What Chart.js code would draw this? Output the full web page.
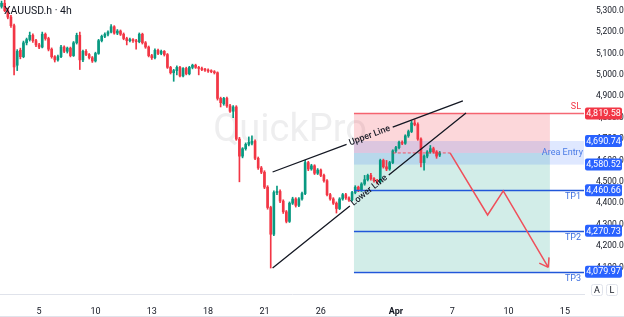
<!DOCTYPE html>
<html>
<head>
<meta charset="utf-8">
<script src="https://cdn.jsdelivr.net/npm/chart.js@4.4.1/dist/chart.umd.min.js"></script>
<style>
  html, body { margin: 0; padding: 0; background: #fff; }
  #wrap { width: 624px; height: 317px; position: relative; }
</style>
</head>
<body>
<div id="wrap"><canvas id="chart"></canvas></div>
<script>
// x axis: bar index of each date label
const tickIdx = [12, 30, 48, 66, 84, 102, 126, 144, 162, 180];
const tickLabels = ["5", "10", "13", "18", "21", "26", "Apr", "7", "10", "15"];
const yTicks = [4100, 4200, 4300, 4400, 4500, 4600, 4700, 4800, 4900, 5000, 5100, 5200, 5300];

// XAUUSD.h 4h candles
const opens = [
  5320, 5335, 5300, 5270, 5230, 5045, 5115, 5085, 5150, 5165,
  5185, 5160, 5140, 5130, 5190, 5170, 5120, 5085, 5070, 5085,
  5130, 5110, 5125, 5090, 5150, 5185, 5070, 5110, 5095, 5080,
  5065, 5100, 5160, 5180, 5190, 5200, 5225, 5195, 5205, 5190,
  5170, 5160, 5165, 5160, 5155, 5190, 5150, 5130, 5090, 5080,
  5115, 5100, 5110, 5095, 5035, 5010, 5020, 5035, 4995, 5030,
  5005, 5035, 5045, 5035, 5030, 5025, 5022, 5018, 5015, 5010,
  4890, 4865, 4890, 4855, 4830, 4850, 4700, 4620, 4655, 4675,
  4680, 4690, 4610, 4565, 4545, 4475, 4380, 4255, 4450, 4455,
  4410, 4360, 4315, 4400, 4420, 4390, 4420, 4445, 4590, 4560,
  4575, 4540, 4555, 4530, 4505, 4440, 4420, 4400, 4375, 4420,
  4440, 4425, 4415, 4450, 4475, 4460, 4490, 4510, 4530, 4515,
  4505, 4500, 4600, 4570, 4560, 4590, 4645, 4660, 4685, 4680,
  4715, 4735, 4775, 4768, 4700, 4590, 4620, 4640, 4655, 4640,
  4625
];
const highs = [
  5345, 5350, 5312, 5278, 5238, 5118, 5125, 5158, 5172, 5200,
  5192, 5166, 5148, 5200, 5196, 5176, 5126, 5090, 5092, 5138,
  5136, 5130, 5130, 5156, 5195, 5200, 5116, 5118, 5100, 5086,
  5106, 5166, 5186, 5196, 5206, 5235, 5230, 5212, 5210, 5196,
  5176, 5172, 5170, 5166, 5196, 5195, 5156, 5135, 5096, 5122,
  5120, 5116, 5114, 5100, 5040, 5026, 5042, 5040, 5034, 5036,
  5040, 5050, 5050, 5040, 5036, 5030, 5028, 5024, 5020, 5014,
  4896, 4895, 4896, 4862, 4856, 4856, 4708, 4660, 4682, 4710,
  4715, 4696, 4616, 4572, 4552, 4482, 4386, 4458, 4480, 4462,
  4416, 4366, 4406, 4428, 4426, 4426, 4452, 4600, 4596, 4582,
  4580, 4562, 4560, 4536, 4510, 4446, 4426, 4406, 4426, 4446,
  4446, 4430, 4456, 4482, 4480, 4496, 4530, 4536, 4540, 4520,
  4512, 4606, 4606, 4600, 4596, 4650, 4666, 4690, 4692, 4720,
  4742, 4785, 4790, 4776, 4706, 4626, 4646, 4670, 4662, 4646,
  4642
];
const lows = [
  5312, 5295, 5262, 5222, 5000, 5020, 5075, 5080, 5140, 5158,
  5152, 5132, 5122, 5126, 5162, 5112, 5078, 5060, 5064, 5080,
  5104, 5102, 5084, 5086, 5144, 5025, 5062, 5090, 5074, 5058,
  5060, 5096, 5154, 5174, 5182, 5196, 5190, 5188, 5184, 5164,
  5140, 5154, 5152, 5120, 5150, 5144, 5124, 5084, 5072, 5074,
  5094, 5094, 5088, 5030, 5004, 4970, 5000, 4990, 4990, 5000,
  5000, 5028, 5030, 5000, 5020, 5016, 5012, 5010, 5004, 4882,
  4850, 4858, 4848, 4824, 4800, 4694, 4500, 4612, 4648, 4668,
  4672, 4604, 4558, 4538, 4468, 4372, 4097, 4248, 4440, 4402,
  4352, 4308, 4310, 4394, 4382, 4384, 4414, 4440, 4552, 4554,
  4534, 4534, 4524, 4498, 4434, 4414, 4394, 4354, 4370, 4414,
  4418, 4408, 4410, 4444, 4454, 4455, 4484, 4504, 4508, 4498,
  4490, 4495, 4564, 4552, 4554, 4585, 4638, 4654, 4674, 4675,
  4708, 4730, 4762, 4694, 4570, 4555, 4612, 4634, 4634, 4610,
  4618
];
const closes = [
  5335, 5300, 5270, 5230, 5037, 5110, 5085, 5150, 5165, 5185,
  5160, 5140, 5130, 5190, 5170, 5120, 5085, 5070, 5085, 5130,
  5110, 5125, 5090, 5150, 5185, 5070, 5110, 5095, 5080, 5065,
  5100, 5160, 5180, 5190, 5200, 5225, 5195, 5205, 5190, 5170,
  5160, 5165, 5160, 5155, 5190, 5150, 5130, 5090, 5080, 5115,
  5100, 5110, 5095, 5035, 5010, 5020, 5035, 4995, 5030, 5005,
  5035, 5045, 5035, 5030, 5025, 5022, 5018, 5015, 5010, 4890,
  4870, 4890, 4855, 4830, 4850, 4700, 4620, 4655, 4675, 4685,
  4690, 4610, 4565, 4545, 4475, 4380, 4255, 4450, 4455, 4410,
  4360, 4315, 4400, 4420, 4390, 4420, 4445, 4590, 4560, 4575,
  4540, 4555, 4530, 4505, 4440, 4420, 4400, 4375, 4420, 4440,
  4425, 4415, 4450, 4475, 4460, 4490, 4510, 4530, 4515, 4505,
  4500, 4600, 4570, 4560, 4590, 4645, 4660, 4685, 4680, 4715,
  4735, 4775, 4768, 4700, 4590, 4620, 4640, 4655, 4640, 4620,
  4635
];

// trade setup drawn on top
const levelNames = ["SL", "TP1", "TP2", "TP3"];
const levelPrices = [4819.58, 4460.66, 4270.73, 4079.97];
const entryZone = [4690.74, 4580.52];
const entryPrice = 4635;
const zoneBars = [112.6, 175.2];
const entryLineBars = [125, 143.3];
const upperLine = [[86.6, 4546], [147.4, 4878]];
const lowerLine = [[86.6, 4097], [148.4, 4822]];
const pathBars = [143.3, 155.3, 160.3, 174.7];
const pathPrices = [4635, 4345, 4458, 4100];

const UP = "#089981";
const DOWN = "#f23645";
const BLUE = "#2962ff";

const candleColors = opens.map((o, i) => (closes[i] >= o ? UP : DOWN));

function fmt(v) {
  return v.toLocaleString("en-US", { minimumFractionDigits: 2, maximumFractionDigits: 2 });
}

const overlay = {
  id: "overlay",
  beforeDatasetsDraw(chart) {
    const { ctx, chartArea: a, scales: { x, y } } = chart;
    ctx.save();
    // watermark
    ctx.font = "38px Roboto";
    ctx.fillStyle = "rgba(120,123,134,0.13)";
    ctx.textAlign = "center";
    ctx.textBaseline = "middle";
    ctx.fillText("QuickPro", 290, 131);

    const x0 = x.getPixelForValue(zoneBars[0]);
    const x1 = x.getPixelForValue(zoneBars[1]);
    const ySL = y.getPixelForValue(levelPrices[0]);
    const yEn = y.getPixelForValue(entryPrice);
    const yTP = y.getPixelForValue(levelPrices[3]);
    ctx.fillStyle = "rgba(242,54,69,0.2)";
    ctx.fillRect(x0, ySL, x1 - x0, yEn - ySL);
    ctx.fillStyle = "rgba(8,153,129,0.18)";
    ctx.fillRect(x0, yEn, x1 - x0, yTP - yEn);
    const zt = y.getPixelForValue(entryZone[0]);
    const zb = y.getPixelForValue(entryZone[1]);
    ctx.fillStyle = "rgba(41,98,255,0.15)";
    ctx.fillRect(x0, zt, a.right - x0, zb - zt);
    ctx.restore();
  },
  afterDatasetsDraw(chart) {
    const { ctx, chartArea: a, scales: { x, y } } = chart;
    ctx.save();
    const x0 = x.getPixelForValue(zoneBars[0]);

    // SL / TP lines
    levelPrices.forEach((p, i) => {
      const py = Math.round(y.getPixelForValue(p)) + 0.5;
      ctx.strokeStyle = i === 0 ? "rgba(242,54,69,0.75)" : "#2157d9";
      ctx.lineWidth = 1.5;
      ctx.beginPath();
      ctx.moveTo(x0, py);
      ctx.lineTo(a.right, py);
      ctx.stroke();
    });

    // dashed entry line
    const ye = y.getPixelForValue(entryPrice);
    ctx.strokeStyle = "rgba(242,54,69,0.8)";
    ctx.lineWidth = 1;
    ctx.setLineDash([3, 2]);
    ctx.beginPath();
    ctx.moveTo(x.getPixelForValue(entryLineBars[0]), ye);
    ctx.lineTo(x.getPixelForValue(entryLineBars[1]), ye);
    ctx.stroke();
    ctx.setLineDash([]);

    // wedge lines with labels
    function slant(pts, label, t) {
      const ax = x.getPixelForValue(pts[0][0]), ay = y.getPixelForValue(pts[0][1]);
      const bx = x.getPixelForValue(pts[1][0]), by = y.getPixelForValue(pts[1][1]);
      const len = Math.hypot(bx - ax, by - ay);
      const ang = Math.atan2(by - ay, bx - ax);
      ctx.font = "500 9px Roboto";
      const w = ctx.measureText(label).width + 6;
      const t0 = t - w / 2 / len, t1 = t + w / 2 / len;
      ctx.strokeStyle = "#131722";
      ctx.lineWidth = 1.3;
      ctx.beginPath();
      ctx.moveTo(ax, ay);
      ctx.lineTo(ax + (bx - ax) * t0, ay + (by - ay) * t0);
      ctx.moveTo(ax + (bx - ax) * t1, ay + (by - ay) * t1);
      ctx.lineTo(bx, by);
      ctx.stroke();
      ctx.save();
      ctx.translate(ax + (bx - ax) * t, ay + (by - ay) * t);
      ctx.rotate(ang);
      ctx.fillStyle = "#131722";
      ctx.textAlign = "center";
      ctx.textBaseline = "middle";
      ctx.fillText(label, 0, 0);
      ctx.restore();
    }
    slant(upperLine, "Upper Line", 0.51);
    slant(lowerLine, "Lower Line", 0.5);

    // projected path with arrow head
    const px = pathBars.map(v => x.getPixelForValue(v));
    const py = pathPrices.map(v => y.getPixelForValue(v));
    ctx.strokeStyle = "#ef4f5a";
    ctx.lineWidth = 1.5;
    ctx.beginPath();
    px.forEach((v, i) => (i ? ctx.lineTo(v, py[i]) : ctx.moveTo(v, py[i])));
    const n = px.length - 1;
    const back = Math.atan2(py[n - 1] - py[n], px[n - 1] - px[n]);
    [-0.6, 0.6].forEach(d => {
      ctx.moveTo(px[n], py[n]);
      ctx.lineTo(px[n] + 10 * Math.cos(back + d), py[n] + 10 * Math.sin(back + d));
    });
    ctx.stroke();

    // level texts
    ctx.font = "9px Roboto";
    ctx.textAlign = "right";
    ctx.textBaseline = "middle";
    levelNames.forEach((name, i) => {
      const ly = y.getPixelForValue(levelPrices[i]);
      ctx.fillStyle = i === 0 ? DOWN : "#3d6fe0";
      ctx.fillText(name, a.right - 3, i === 0 ? ly - 7 : ly + 7);
    });
    ctx.fillStyle = "#4a7be6";
    ctx.fillText("Area Entry", a.right - 1, (y.getPixelForValue(entryZone[0]) + y.getPixelForValue(entryZone[1])) / 2);

    // price tags on the axis
    const tags = [levelPrices[0], entryZone[0], entryZone[1], levelPrices[1], levelPrices[2], levelPrices[3]];
    ctx.font = "9px Roboto";
    ctx.textAlign = "center";
    tags.forEach((p, i) => {
      const ty = y.getPixelForValue(p);
      ctx.fillStyle = i === 0 ? DOWN : BLUE;
      ctx.beginPath();
      ctx.roundRect(a.right + 1, ty - 6, 37, 12, 2);
      ctx.fill();
      ctx.fillStyle = "#fff";
      ctx.fillText(fmt(p), a.right + 19.5, ty + 0.5);
    });
    ctx.restore();
  },
  afterDraw(chart) {
    const { ctx } = chart;
    ctx.save();
    ctx.font = "10.5px Roboto";
    ctx.fillStyle = "#131722";
    ctx.textAlign = "left";
    ctx.textBaseline = "middle";
    ctx.fillText("XAUUSD.h · 4h", 4, 11);
    // A / L buttons
    ctx.font = "9px Roboto";
    ctx.textAlign = "center";
    ["A", "L"].forEach((t, i) => {
      const bx = 591 + i * 15;
      ctx.strokeStyle = "#e0e3eb";
      ctx.fillStyle = "#fff";
      ctx.beginPath();
      ctx.roundRect(bx + 0.5, 284.5, 11, 11, 2);
      ctx.fill();
      ctx.stroke();
      ctx.fillStyle = "#131722";
      ctx.fillText(t, bx + 6, 290.5);
    });
    // bottom rule of the time axis
    ctx.strokeStyle = "#e0e3eb";
    ctx.lineWidth = 1;
    ctx.beginPath();
    ctx.moveTo(0, 316.5);
    ctx.lineTo(624, 316.5);
    ctx.stroke();
    ctx.restore();
  }
};

const ctx = document.getElementById("chart").getContext("2d");
const chart = new Chart(ctx, {
  type: "bar",
  data: {
    datasets: [
      {
        label: "body",
        data: opens.map((o, i) => ({ x: i, y: [o, closes[i]] })),
        backgroundColor: candleColors,
        barThickness: 2,
        minBarLength: 1,
        grouped: false,
        order: 1,
      },
      {
        label: "wick",
        data: lows.map((l, i) => ({ x: i, y: [l, highs[i]] })),
        backgroundColor: candleColors,
        barThickness: 1,
        grouped: false,
        order: 2,
      },
    ],
  },
  options: {
    responsive: true,
    maintainAspectRatio: false,
    animation: false,
    layout: { padding: 0 },
    plugins: {
      legend: { display: false },
      tooltip: { enabled: false },
    },
    scales: {
      x: {
        type: "linear",
        offset: false,
        min: -0.5,
        max: 186.1,
        grid: { display: false, offset: false },
        border: { display: true, color: "#e0e3eb" },
        afterBuildTicks: (s) => { s.ticks = tickIdx.map(v => ({ value: v })); },
        afterFit: (s) => { s.height = 23; s.paddingLeft = 0; s.paddingRight = 0; },
        ticks: {
          autoSkip: false,
          maxRotation: 0,
          padding: 4,
          color: "#131722",
          font: (c) => ({ family: "Roboto", size: 9, weight: c.tick && c.tick.label === "Apr" ? "bold" : "normal" }),
          callback: (v) => tickLabels[tickIdx.indexOf(v)],
        },
      },
      y: {
        type: "linear",
        position: "right",
        min: 3975.6,
        max: 5350,
        grid: { display: false },
        border: { display: false },
        afterBuildTicks: (s) => { s.ticks = yTicks.map(v => ({ value: v })); },
        afterFit: (s) => { s.width = 40; s.paddingTop = 0; s.paddingBottom = 0; },
        ticks: {
          padding: 4,
          color: "#131722",
          font: { family: "Roboto", size: 8.5 },
          callback: (v) => fmt(v),
        },
      },
    },
  },
  plugins: [overlay],
});
</script>
</body>
</html>
